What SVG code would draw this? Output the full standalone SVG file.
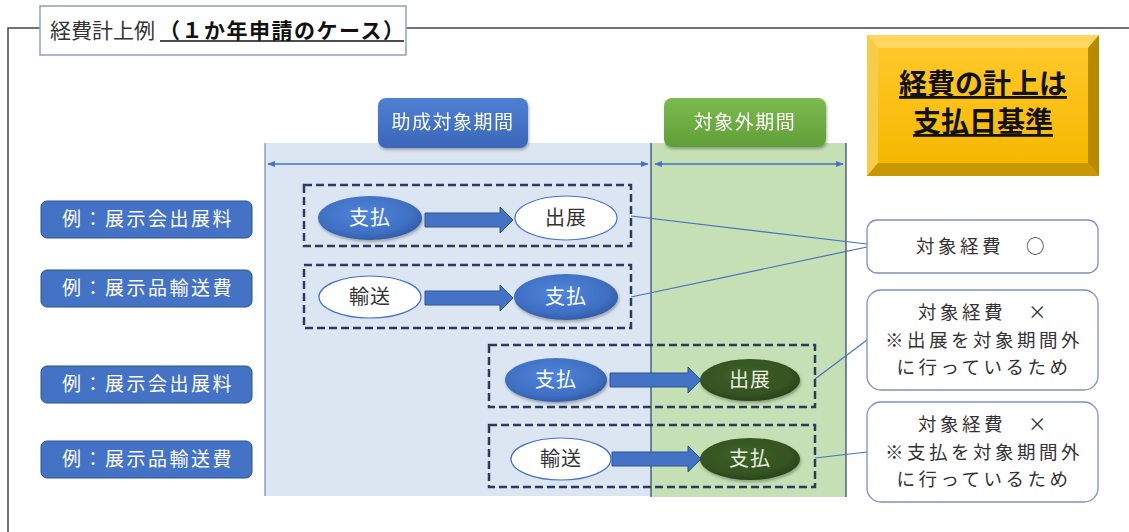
<svg xmlns="http://www.w3.org/2000/svg" width="1129" height="532" viewBox="0 0 1129 532">
<defs>
<style>
.jp{font-family:"Noto Sans CJK JP","Noto Sans CJK SC",sans-serif;}
.lbl{fill:#4472c4;stroke:#2f528f;stroke-width:1}
.lblt{fill:#fff;font-size:19px;letter-spacing:2.5px;text-anchor:middle}
.dash{fill:none;stroke:#2e3b5e;stroke-width:2.5;stroke-dasharray:8 4}
.eb{fill:url(#gBlue)}
.eg{fill:url(#gGreen)}
.ew{fill:#fff;stroke:#4472c4;stroke-width:1.2}
.et{font-size:20px;text-anchor:middle;letter-spacing:1px}
.res{fill:#fff;stroke:#7f8fbf;stroke-width:1.3}
.rest{font-size:18.5px;fill:#333;text-anchor:middle;letter-spacing:3.5px}
.conn{stroke:#4472c4;stroke-width:1.2;fill:none}
.barr{fill:#4472c4;stroke:#2f528f;stroke-width:1}
</style>
<radialGradient id="gBlue" cx="0.45" cy="0.4" r="0.65">
<stop offset="0" stop-color="#4f86dc"/><stop offset="0.7" stop-color="#3f6fc2"/><stop offset="1" stop-color="#2f57a0"/>
</radialGradient>
<radialGradient id="gGreen" cx="0.45" cy="0.4" r="0.65">
<stop offset="0" stop-color="#3f6128"/><stop offset="0.7" stop-color="#345321"/><stop offset="1" stop-color="#263f17"/>
</radialGradient>
<linearGradient id="gHdrB" x1="0" y1="0" x2="0" y2="1">
<stop offset="0" stop-color="#4f80d4"/><stop offset="1" stop-color="#3a66b8"/>
</linearGradient>
<linearGradient id="gHdrG" x1="0" y1="0" x2="0" y2="1">
<stop offset="0" stop-color="#7cbb4e"/><stop offset="1" stop-color="#609e38"/>
</linearGradient>
<linearGradient id="gGold" x1="0" y1="0" x2="0" y2="1">
<stop offset="0" stop-color="#ffc82a"/><stop offset="1" stop-color="#f5b800"/>
</linearGradient>
<marker id="ah" viewBox="0 0 10 10" refX="9" refY="5" markerWidth="6" markerHeight="6" orient="auto-start-reverse">
<path d="M0,1 L10,5 L0,9 z" fill="#4472c4"/>
</marker>
<filter id="sh" x="-20%" y="-20%" width="140%" height="150%">
<feDropShadow dx="1" dy="2" stdDeviation="1.5" flood-color="#000" flood-opacity="0.3"/>
</filter>
</defs>
<rect x="0" y="0" width="1129" height="532" fill="#fff"/>

<!-- outer frame -->
<path d="M8,532 L8,28 L1129,28" fill="none" stroke="#3d4659" stroke-width="1.5"/>

<!-- title -->
<g id="title">
<rect x="40" y="6" width="366" height="49" fill="#fff" stroke="#8ea0c8" stroke-width="1.5"/>
<text class="jp" x="50" y="38" font-size="21" fill="#333">経費計上例<tspan dx="4" font-weight="bold" fill="#111" letter-spacing="1.5">（１か年申請のケース）</tspan></text>
<line x1="160" y1="41" x2="404" y2="41" stroke="#111" stroke-width="1.5"/>
</g>

<!-- period regions -->
<g id="periods">
<rect x="265" y="143" width="386" height="353" fill="#dce6f2"/>
<rect x="651" y="143" width="195" height="354" fill="#c5e0b4"/>
<line x1="265" y1="143" x2="265" y2="496" stroke="#7a8aa8" stroke-width="1.2"/>
<line x1="651" y1="143" x2="651" y2="497" stroke="#2f3f66" stroke-width="1.2"/>
<line x1="846" y1="143" x2="846" y2="497" stroke="#2f3f66" stroke-width="1.2"/>
<line x1="268" y1="164" x2="648" y2="164" stroke="#4472c4" stroke-width="1.3" marker-start="url(#ah)" marker-end="url(#ah)"/>
<line x1="655" y1="164" x2="843" y2="164" stroke="#4472c4" stroke-width="1.3" marker-start="url(#ah)" marker-end="url(#ah)"/>
</g>

<g id="hdr-target" filter="url(#sh)">
<rect x="378" y="98" width="150" height="50" rx="8" style="fill:url(#gHdrB)"/>
<text class="jp" x="453" y="129" font-size="19" fill="#fff" text-anchor="middle" letter-spacing="1.5">助成対象期間</text>
</g>
<g id="hdr-outside" filter="url(#sh)">
<rect x="664" y="98" width="162" height="49" rx="8" style="fill:url(#gHdrG)"/>
<text class="jp" x="745" y="129" font-size="19" fill="#fff" text-anchor="middle" letter-spacing="1.5">対象外期間</text>
</g>

<!-- gold box -->
<g id="rule">
<rect x="867" y="35" width="232" height="141" fill="#ffc000"/>
<polygon points="867,35 1099,35 1088,48 878,48" fill="#ffd760"/>
<polygon points="867,35 878,48 878,163 867,176" fill="#f7cc4a"/>
<polygon points="1099,35 1099,176 1088,163 1088,48" fill="#b88a00"/>
<polygon points="867,176 878,163 1088,163 1099,176" fill="#c99800"/>
<rect x="878" y="48" width="210" height="115" fill="url(#gGold)"/>
<text class="jp" x="983" y="94" font-size="28" font-weight="bold" fill="#111" text-anchor="middle" text-decoration="underline">経費の計上は</text>
<text class="jp" x="983" y="132" font-size="28" font-weight="bold" fill="#111" text-anchor="middle" text-decoration="underline">支払日基準</text>
</g>

<!-- left labels -->
<g id="label1"><rect class="lbl" x="41" y="201" width="211" height="37" rx="6"/><text class="jp lblt" x="148" y="226">例：展示会出展料</text></g>
<g id="label2"><rect class="lbl" x="41" y="270" width="211" height="37" rx="6"/><text class="jp lblt" x="148" y="295">例：展示品輸送費</text></g>
<g id="label3"><rect class="lbl" x="41" y="366" width="211" height="37" rx="6"/><text class="jp lblt" x="148" y="391">例：展示会出展料</text></g>
<g id="label4"><rect class="lbl" x="41" y="441" width="211" height="37" rx="6"/><text class="jp lblt" x="148" y="466">例：展示品輸送費</text></g>

<!-- connectors -->
<g id="connectors">
<polygon class="barr" points="425,213 500,213 500,207 513,220 500,233 500,227 425,227"/>
<polygon class="barr" points="425,291 500,291 500,285 513,298 500,311 500,305 425,305"/>
<polygon class="barr" points="610,373 688,373 688,367 701,380 688,393 688,387 610,387"/>
<polygon class="barr" points="612,452 688,452 688,446 701,459 688,472 688,466 612,466"/>
<line class="conn" x1="631" y1="216" x2="867" y2="244"/>
<line class="conn" x1="631" y1="297" x2="867" y2="247"/>
<line class="conn" x1="815" y1="379" x2="867" y2="340"/>
<line class="conn" x1="815" y1="458" x2="867" y2="452"/>
</g>

<!-- dashed groups -->
<g id="case1">
<rect class="dash" x="304" y="185" width="327" height="61"/>
<ellipse class="eb" cx="370" cy="218" rx="52" ry="22" filter="url(#sh)"/>
<text class="jp et" x="370" y="225" fill="#fff">支払</text>
<ellipse class="ew" cx="566" cy="218" rx="51" ry="22"/>
<text class="jp et" x="566" y="225" fill="#333">出展</text>
</g>
<g id="case2">
<rect class="dash" x="304" y="265" width="327" height="63"/>
<ellipse class="ew" cx="370" cy="297" rx="51" ry="21"/>
<text class="jp et" x="370" y="304" fill="#333">輸送</text>
<ellipse class="eb" cx="566" cy="297" rx="52" ry="23" filter="url(#sh)"/>
<text class="jp et" x="566" y="304" fill="#fff">支払</text>
</g>
<g id="case3">
<rect class="dash" x="489" y="345" width="326" height="62"/>
<ellipse class="eb" cx="556" cy="380" rx="51" ry="22" filter="url(#sh)"/>
<text class="jp et" x="556" y="387" fill="#fff">支払</text>
<ellipse class="eg" cx="750" cy="380" rx="50" ry="21" filter="url(#sh)"/>
<text class="jp et" x="750" y="387" fill="#e8f0e0">出展</text>
</g>
<g id="case4">
<rect class="dash" x="489" y="425" width="326" height="62"/>
<ellipse class="ew" cx="561" cy="459" rx="50" ry="21"/>
<text class="jp et" x="561" y="466" fill="#333">輸送</text>
<ellipse class="eg" cx="750" cy="459" rx="50" ry="21" filter="url(#sh)"/>
<text class="jp et" x="750" y="466" fill="#e8f0e0">支払</text>
</g>

<!-- result boxes -->
<g id="result1">
<rect class="res" x="867" y="220" width="231" height="53" rx="10"/>
<text class="jp rest" x="982" y="253">対象経費　○</text>
</g>
<g id="result2">
<rect class="res" x="867" y="290" width="231" height="100" rx="14"/>
<text class="jp rest" x="984" y="319">対象経費　×</text>
<text class="jp rest" x="984" y="347">※出展を対象期間外</text>
<text class="jp rest" x="984" y="374">に行っているため</text>
</g>
<g id="result3">
<rect class="res" x="867" y="402" width="231" height="100" rx="14"/>
<text class="jp rest" x="984" y="431">対象経費　×</text>
<text class="jp rest" x="984" y="459">※支払を対象期間外</text>
<text class="jp rest" x="984" y="486">に行っているため</text>
</g>
</svg>
